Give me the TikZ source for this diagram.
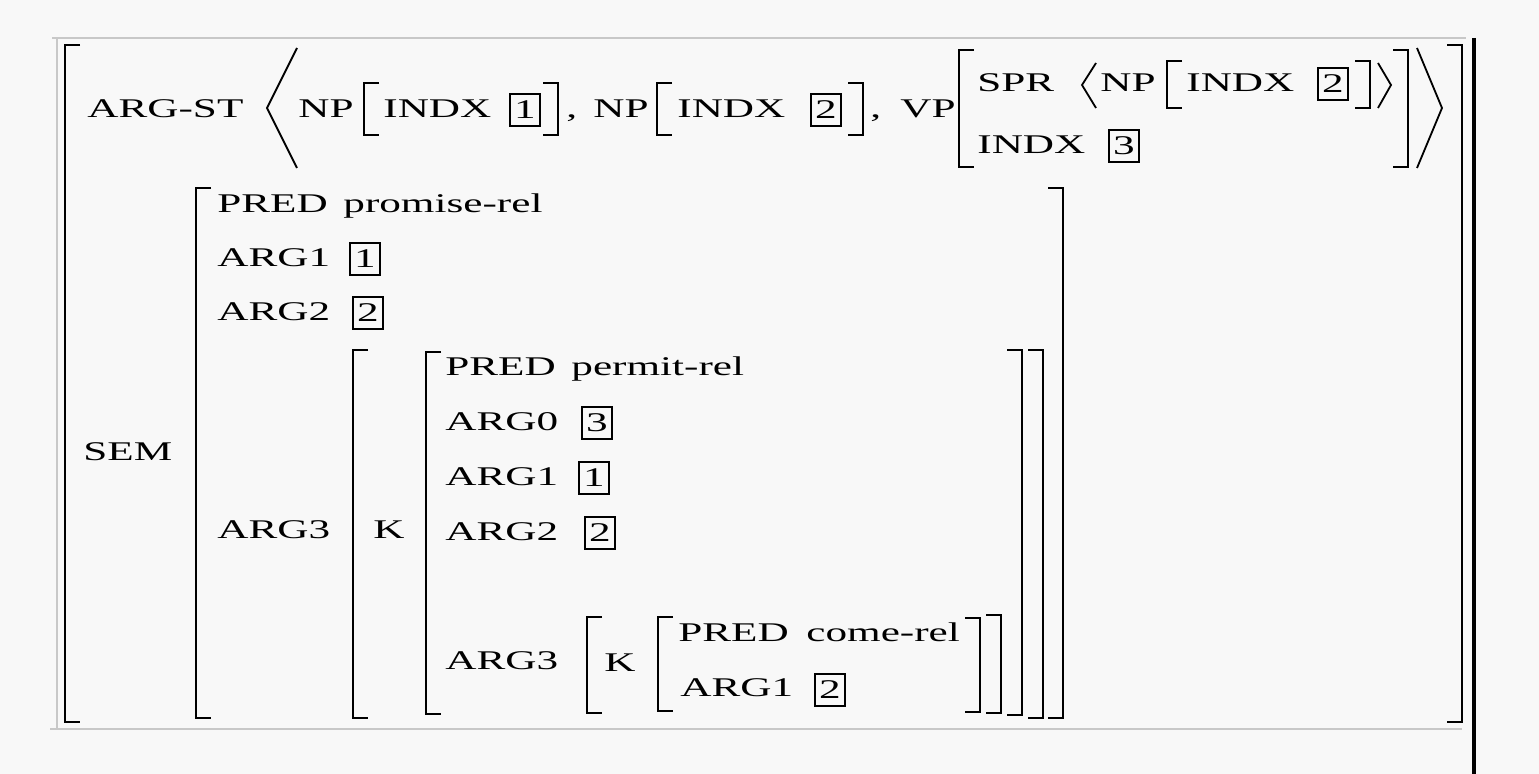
\documentclass[tikz,border=0pt]{standalone}
\usepackage{fontspec}
\setmainfont{Liberation Serif}[FakeStretch=1.6]
\newcommand\fs{\fontsize{13.5pt}{16pt}\selectfont}
\definecolor{bg}{RGB}{248,248,248}
\definecolor{framegray}{RGB}{200,200,200}
\newcommand\LBk[3]{\draw[brk] ({#1+15},#2) -- (#1,#2) -- (#1,#3) -- ({#1+15},#3);}
\newcommand\RBk[3]{\draw[brk] ({#1-15},#2) -- (#1,#2) -- (#1,#3) -- ({#1-15},#3);}
\tikzset{
  lbl/.style={inner sep=0, anchor=base west, font=\fs},
  numbox/.style={draw, line width=0.9pt, minimum width=15pt, minimum height=16pt, inner sep=0, font=\fs},
  brk/.style={line width=1pt, black},
  angle/.style={line width=0.9pt, black},
  frameline/.style={draw=framegray, line width=1pt},
}
\begin{document}
\begin{tikzpicture}[x=0.5pt, y=-0.5pt]
\fill[bg] (0,0) rectangle (1539,774);
\useasboundingbox (0,0) rectangle (1539,774);
% frame
\draw[frameline] (52,38) -- (1466,38);
\draw[frameline] (57,38) -- (57,729);
\draw[frameline] (50,729) -- (1462,729);
\draw[line width=2pt] (1474,38) -- (1474,774);
% outer brackets
\LBk{65}{45}{722}
\RBk{1462}{45}{722}
% ---- row ARG-ST
\node[lbl] (argst) at (87,118) {ARG-ST};
\draw[angle] (297,48) -- (267,108) -- (297,168);
\node[lbl] (np1) at (298,118) {NP};
\LBk{364}{83}{135}
\node[lbl] (indx1) at (383,118) {INDX};
\node[numbox] (b1a) at (525,110) {1};
\RBk{558}{83}{135}
\node[lbl] (c1) at (566,118) {,};
\node[lbl] (np2) at (593,118) {NP};
\LBk{657}{83}{135}
\node[lbl] (indx2) at (677,118) {INDX};
\node[numbox] (b2a) at (826,110) {2};
\RBk{863}{83}{135}
\node[lbl] (c2) at (870,118) {,};
\node[lbl] (vp) at (900,118) {VP};
\LBk{959}{50}{167}
\node[lbl] (spr) at (977,92) {SPR};
\draw[angle] (1096,63) -- (1082,85) -- (1096,108);
\node[lbl] (np3) at (1100,92) {NP};
\LBk{1167}{61}{108}
\node[lbl] (indx3) at (1186,92) {INDX};
\node[numbox] (b2b) at (1333,84) {2};
\RBk{1370}{61}{108}
\draw[angle] (1378,63) -- (1391,85) -- (1378,108);
\node[lbl] (indx4) at (977,154) {INDX};
\node[numbox] (b3a) at (1124,146) {3};
\RBk{1408}{50}{167}
\draw[angle] (1417,48) -- (1442,108) -- (1417,168);
% ---- SEM
\node[lbl] (sem) at (83,461) {SEM};
\LBk{196}{188}{718}
\RBk{1063}{188}{718}
\node[lbl] (pred1) at (217,213) {PRED};
\node[lbl] (promise) at (343,213) {promise-rel};
\node[lbl] (arg1a) at (217,267) {ARG1};
\node[numbox] (b1b) at (365,259) {1};
\node[lbl] (arg2a) at (217,321) {ARG2};
\node[numbox] (b2c) at (368,313) {2};
\node[lbl] (arg3a) at (217,539) {ARG3};
\LBk{353}{350}{718}
\RBk{1043}{350}{718}
\node[lbl] (k1) at (373,539) {K};
\LBk{426}{352}{714}
\RBk{1022}{350}{715}
\node[lbl] (pred2) at (445,376) {PRED};
\node[lbl] (permit) at (571,376) {permit-rel};
\node[lbl] (arg0b) at (445,431) {ARG0};
\node[numbox] (b3b) at (597,423) {3};
\node[lbl] (arg1b) at (445,486) {ARG1};
\node[numbox] (b1c) at (594,478) {1};
\node[lbl] (arg2b) at (445,541) {ARG2};
\node[numbox] (b2d) at (600,533) {2};
\node[lbl] (arg3b) at (445,670) {ARG3};
\LBk{587}{617}{713}
\RBk{1001}{615}{713}
\node[lbl] (k2) at (604,672) {K};
\LBk{658}{617}{711}
\RBk{980}{618}{712}
\node[lbl] (pred3) at (678,642) {PRED};
\node[lbl] (come) at (806,642) {come-rel};
\node[lbl] (arg1c) at (680,697) {ARG1};
\node[numbox] (b2e) at (830,690) {2};
\end{tikzpicture}
\end{document}
